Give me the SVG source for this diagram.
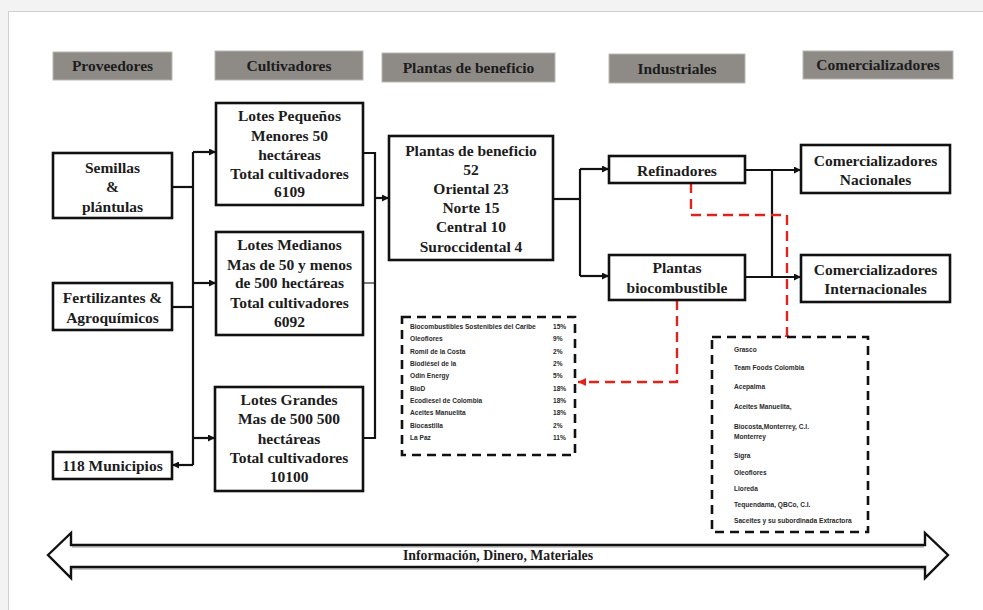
<svg xmlns="http://www.w3.org/2000/svg" width="983" height="610" viewBox="0 0 983 610">
  <defs>
    <marker id="arr" viewBox="0 0 10 10" refX="10" refY="5" markerWidth="7" markerHeight="7" markerUnits="userSpaceOnUse" orient="auto">
      <path d="M0,0 L10,5 L0,10 z" fill="#111"/>
    </marker>
    <marker id="arrRed" viewBox="0 0 10 10" refX="10" refY="5" markerWidth="8" markerHeight="8" markerUnits="userSpaceOnUse" orient="auto">
      <path d="M0,0 L10,5 L0,10 z" fill="#e0231d"/>
    </marker>
  </defs>
  <style>
    .hdr rect { fill: #8e8b87; stroke: #b9b7b3; stroke-width: 1; }
    .box rect { fill: #ffffff; stroke: #111; stroke-width: 2.6; }
    .t { font-family: "Liberation Serif", "Times New Roman", serif; font-weight: bold; font-size: 15.5px; fill: #1c1c1c; text-anchor: middle; }
    .list rect { fill: #ffffff; stroke: #111; stroke-width: 2.6; stroke-dasharray: 9 6; }
    .s { font-family: "Liberation Sans", Arial, sans-serif; font-weight: bold; font-size: 6.6px; fill: #2a2a2a; }
    .ln { fill: none; stroke: #111; stroke-width: 2.2; }
    .thin { fill: none; stroke: #111; stroke-width: 1.1; }
    .red { fill: none; stroke: #e0231d; stroke-width: 2.4; stroke-dasharray: 10 6; }
  </style>

  <!-- page frame -->
  <rect x="0" y="0" width="983" height="610" fill="#f3f3f3"/>
  <rect x="8.5" y="11.5" width="990" height="610" fill="#ffffff" stroke="#cfcfcf" stroke-width="1"/>

  <!-- column headers -->
  <g id="hdr-proveedores" class="hdr"><rect x="53" y="52" width="119" height="28"/><text class="t" x="112.5" y="71">Proveedores</text></g>
  <g id="hdr-cultivadores" class="hdr"><rect x="215" y="51" width="148" height="29"/><text class="t" x="289" y="71">Cultivadores</text></g>
  <g id="hdr-plantas" class="hdr"><rect x="382" y="53" width="173" height="29"/><text class="t" x="468.5" y="73">Plantas de beneficio</text></g>
  <g id="hdr-industriales" class="hdr"><rect x="609" y="54" width="136" height="29"/><text class="t" x="677" y="74">Industriales</text></g>
  <g id="hdr-comercializadores" class="hdr"><rect x="803" y="51" width="150" height="28"/><text class="t" x="878" y="70">Comercializadores</text></g>

  <!-- connectors -->
  <g id="connectors">
    <!-- suppliers to growers -->
    <path class="ln" d="M172,187 H193"/>
    <path class="ln" d="M172,307 H193"/>
    <path class="ln" d="M193,152 V465"/>
    <path class="ln" d="M193,152 H216" marker-end="url(#arr)"/>
    <path class="ln" d="M193,283 H216" marker-end="url(#arr)"/>
    <path class="ln" d="M193,438 H215" marker-end="url(#arr)"/>
    <path class="ln" d="M193,465 H172" marker-end="url(#arr)"/>
    <!-- growers to processing plants -->
    <path class="ln" d="M363,153 H375 V438 H363"/>
    <path class="thin" d="M363,283 H375"/>
    <path class="ln" d="M375,198 H389" marker-end="url(#arr)"/>
    <!-- processing plants to industry -->
    <path class="ln" d="M553,199 H580"/>
    <path class="ln" d="M580,169 V276"/>
    <path class="ln" d="M580,169 H609" marker-end="url(#arr)"/>
    <path class="ln" d="M580,276 H609" marker-end="url(#arr)"/>
    <!-- industry to traders -->
    <path class="ln" d="M745,170 H801" marker-end="url(#arr)"/>
    <path class="ln" d="M772,170 V277"/>
    <path class="ln" d="M745,277 H801" marker-end="url(#arr)"/>
    <!-- company lists -->
    <path class="red" d="M691,183 V215 H787 V337"/>
    <circle cx="787" cy="337" r="2.3" fill="#e0231d"/>
    <path class="red" d="M677,300 V382 H578" marker-end="url(#arrRed)"/>
  </g>

  <!-- suppliers -->
  <g id="semillas" class="box"><rect x="53" y="153" width="119" height="65"/>
    <text class="t" x="112.5" y="173">Semillas</text><text class="t" x="112.5" y="192">&amp;</text><text class="t" x="112.5" y="212">plántulas</text></g>
  <g id="fertilizantes" class="box"><rect x="53" y="283" width="119" height="47"/>
    <text class="t" x="112.5" y="303">Fertilizantes &amp;</text><text class="t" x="112.5" y="323">Agroquímicos</text></g>
  <g id="municipios" class="box"><rect x="53" y="452" width="119" height="27"/>
    <text class="t" x="112.5" y="471">118 Municipios</text></g>

  <!-- growers -->
  <g id="lotes-pequenos" class="box"><rect x="216" y="103" width="147" height="102"/>
    <text class="t" x="289.5" y="121">Lotes Pequeños</text><text class="t" x="289.5" y="141">Menores 50</text><text class="t" x="289.5" y="160">hectáreas</text><text class="t" x="289.5" y="179">Total cultivadores</text><text class="t" x="289.5" y="197">6109</text></g>
  <g id="lotes-medianos" class="box"><rect x="216" y="232" width="147" height="103"/>
    <text class="t" x="289.5" y="250">Lotes Medianos</text><text class="t" x="289.5" y="270">Mas de 50 y menos</text><text class="t" x="289.5" y="288">de 500 hectáreas</text><text class="t" x="289.5" y="308">Total cultivadores</text><text class="t" x="289.5" y="327">6092</text></g>
  <g id="lotes-grandes" class="box"><rect x="215" y="387" width="148" height="104"/>
    <text class="t" x="289" y="405">Lotes Grandes</text><text class="t" x="289" y="424">Mas de 500 500</text><text class="t" x="289" y="444">hectáreas</text><text class="t" x="289" y="463">Total cultivadores</text><text class="t" x="289" y="482">10100</text></g>

  <!-- processing plants -->
  <g id="plantas-beneficio" class="box"><rect x="389" y="136" width="164" height="124"/>
    <text class="t" x="471" y="156">Plantas de beneficio</text><text class="t" x="471" y="175">52</text><text class="t" x="471" y="194">Oriental 23</text><text class="t" x="471" y="213">Norte 15</text><text class="t" x="471" y="232">Central 10</text><text class="t" x="471" y="252">Suroccidental 4</text></g>

  <!-- industry -->
  <g id="refinadores" class="box"><rect x="609" y="156" width="136" height="27"/>
    <text class="t" x="677" y="176">Refinadores</text></g>
  <g id="plantas-biocombustible" class="box"><rect x="609" y="255" width="136" height="45"/>
    <text class="t" x="677" y="273">Plantas</text><text class="t" x="677" y="293">biocombustible</text></g>

  <!-- traders -->
  <g id="com-nacionales" class="box"><rect x="801" y="145" width="149" height="48"/>
    <text class="t" x="875.5" y="166">Comercializadores</text><text class="t" x="875.5" y="185">Nacionales</text></g>
  <g id="com-internacionales" class="box"><rect x="801" y="255" width="149" height="47"/>
    <text class="t" x="875.5" y="275">Comercializadores</text><text class="t" x="875.5" y="294">Internacionales</text></g>

  <!-- biodiesel producers -->
  <g id="lista-biocombustible" class="list"><rect x="402" y="317" width="173" height="138"/>
    <text class="s" x="410" y="329">Biocombustibles Sostenibles del Caribe</text><text class="s" x="553" y="329">15%</text>
    <text class="s" x="410" y="341">Oleoflores</text><text class="s" x="553" y="341">9%</text>
    <text class="s" x="410" y="354">Romil de la Costa</text><text class="s" x="553" y="354">2%</text>
    <text class="s" x="410" y="366">Biodiésel de la</text><text class="s" x="553" y="366">2%</text>
    <text class="s" x="410" y="378">Odin Energy</text><text class="s" x="553" y="378">5%</text>
    <text class="s" x="410" y="391">BioD</text><text class="s" x="553" y="391">18%</text>
    <text class="s" x="410" y="403">Ecodiesel de Colombia</text><text class="s" x="553" y="403">18%</text>
    <text class="s" x="410" y="415">Aceites Manuelita</text><text class="s" x="553" y="415">18%</text>
    <text class="s" x="410" y="428">Biocastilla</text><text class="s" x="553" y="428">2%</text>
    <text class="s" x="410" y="440">La Paz</text><text class="s" x="553" y="440">11%</text></g>

  <!-- refiners and traders -->
  <g id="lista-refinadores" class="list"><rect x="712" y="337" width="156" height="195"/>
    <text class="s" x="734" y="352">Grasco</text>
    <text class="s" x="734" y="370">Team Foods Colombia</text>
    <text class="s" x="734" y="389">Acepalma</text>
    <text class="s" x="734" y="409">Aceites Manuelita,</text>
    <text class="s" x="734" y="429">Biocosta,Monterrey, C.I.</text>
    <text class="s" x="734" y="439">Monterrey</text>
    <text class="s" x="734" y="458">Sigra</text>
    <text class="s" x="734" y="475">Oleoflores</text>
    <text class="s" x="734" y="491">Lloreda</text>
    <text class="s" x="734" y="507">Tequendama, QBCo, C.I.</text>
    <text class="s" x="734" y="523">Saceites y su subordinada Extractora</text></g>

  <!-- two-way flow band -->
  <g id="flujo">
    <path d="M72,547 H924 M72,569 H924" fill="none" stroke="#9a9a9a" stroke-width="1.2"/>
    <path d="M48,555 L71,533 V545 H925 V533 L948,555 L925,578 V567 H71 V578 Z" fill="none" stroke="#111" stroke-width="2.4" stroke-linejoin="miter"/>
    <text class="t" x="498" y="560" font-size="12px" textLength="190" lengthAdjust="spacingAndGlyphs">Información, Dinero, Materiales</text>
  </g>
</svg>
